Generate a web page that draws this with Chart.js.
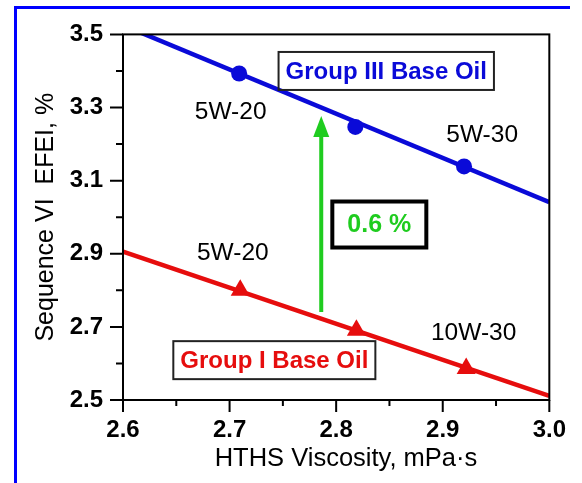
<!DOCTYPE html>
<html><head><meta charset="utf-8">
<script src="https://cdn.jsdelivr.net/npm/chart.js@4.4.1/dist/chart.umd.min.js"></script>
<style>html,body{margin:0;padding:0;background:#fff}canvas{display:block}</style>
</head><body>
<canvas id="c" width="582" height="483"></canvas>
<script>
// ---- data ----
const xTicks = [2.6, 2.7, 2.8, 2.9, 3.0];
const yTicks = [2.5, 2.7, 2.9, 3.1, 3.3, 3.5];
const hthsGroupIII = [2.709, 2.818, 2.920];
const efeiGroupIII = [3.393, 3.247, 3.139];
const hthsGroupI = [2.710, 2.819, 2.922];
const efeiGroupI = [2.800, 2.691, 2.586];
const fitHths = [2.6, 3.0];
const fitGroupIII = [3.525, 3.041];
const fitGroupI = [2.906, 2.511];
const gradeLabels = ['5W-20', '5W-30', '5W-20', '10W-30'];
const gradeX = [2.701, 2.937, 2.703, 2.929];
const gradeY = [3.287, 3.223, 2.901, 2.683];
const seriesNames = ['Group III Base Oil', 'Group I Base Oil'];
const seriesLabelX = [2.847, 2.742];
const seriesLabelY = [3.400, 2.609];
const deltaLabel = '0.6 %';
const deltaLabelX = [2.8405];
const deltaLabelY = [2.980];
const arrowX = [2.786];
const arrowY = [2.741, 3.277];
const xTitle = 'HTHS Viscosity, mPa\u00B7s';
const yTitle = 'Sequence VI  EFEI, %';

const FONT = '"Liberation Sans", Arial, Helvetica, sans-serif';
const BLUE = '#0a0ad8';
const RED = '#e60d0d';
const GREEN = '#1fcc1f';

const pts = (xs, ys) => xs.map((x, i) => ({x, y: ys[i]}));

const deco = {
  id: 'deco',
  beforeDraw(chart) {
    const c = chart.ctx;
    c.save();
    c.fillStyle = '#fff';
    c.fillRect(0, 0, chart.width, chart.height);
    c.fillStyle = '#0000ff';
    c.fillRect(14, 6, 3, chart.height - 6);
    c.fillRect(14, 6, 556, 3);
    c.restore();
  },
  afterDatasetsDraw(chart) {
    const c = chart.ctx, xs = chart.scales.x, ys = chart.scales.y;
    c.save();
    // green arrow
    const ax = xs.getPixelForValue(arrowX[0]);
    const y0 = ys.getPixelForValue(arrowY[0]);
    const y1 = ys.getPixelForValue(arrowY[1]);
    c.strokeStyle = GREEN; c.fillStyle = GREEN; c.lineWidth = 4;
    c.beginPath(); c.moveTo(ax, y0); c.lineTo(ax, y1 + 18); c.stroke();
    c.beginPath(); c.moveTo(ax, y1); c.lineTo(ax - 8, y1 + 21); c.lineTo(ax + 8, y1 + 21); c.closePath(); c.fill();

    // grade labels
    c.fillStyle = '#000';
    c.font = '24.5px ' + FONT;
    c.textAlign = 'center'; c.textBaseline = 'middle';
    gradeLabels.forEach((t, i) => c.fillText(t, xs.getPixelForValue(gradeX[i]), ys.getPixelForValue(gradeY[i])));

    // series boxes
    const cols = [BLUE, RED];
    c.font = 'bold 24px ' + FONT;
    seriesNames.forEach((t, i) => {
      const cx = xs.getPixelForValue(seriesLabelX[i]), cy = ys.getPixelForValue(seriesLabelY[i]);
      const w = c.measureText(t).width + 14, h = 38;
      c.strokeStyle = '#222'; c.lineWidth = 2;
      c.strokeRect(cx - w / 2, cy - h / 2, w, h);
      c.fillStyle = cols[i];
      c.fillText(t, cx, cy + 1);
    });

    // delta box
    const dx = xs.getPixelForValue(deltaLabelX[0]), dy = ys.getPixelForValue(deltaLabelY[0]);
    c.strokeStyle = '#000'; c.lineWidth = 4;
    c.strokeRect(dx - 47, dy - 23, 94, 46);
    c.fillStyle = GREEN;
    c.font = 'bold 25px ' + FONT;
    c.fillText(deltaLabel, dx, dy + 1);
    c.restore();
  },
  afterDraw(chart) {
    const c = chart.ctx, a = chart.chartArea, xs = chart.scales.x, ys = chart.scales.y;
    c.save();
    c.strokeStyle = '#000'; c.lineWidth = 2;
    c.strokeRect(a.left, a.top, a.right - a.left, a.bottom - a.top);
    c.beginPath();
    xTicks.forEach((v, i) => {
      const p = xs.getPixelForValue(v);
      c.moveTo(p, a.bottom); c.lineTo(p, a.bottom + 12);
      if (i < xTicks.length - 1) {
        const m = (p + xs.getPixelForValue(xTicks[i + 1])) / 2;
        c.moveTo(m, a.bottom); c.lineTo(m, a.bottom + 6);
      }
    });
    yTicks.forEach((v, i) => {
      const p = ys.getPixelForValue(v);
      c.moveTo(a.left, p); c.lineTo(a.left - 13, p);
      if (i < yTicks.length - 1) {
        const m = (p + ys.getPixelForValue(yTicks[i + 1])) / 2;
        c.moveTo(a.left, m); c.lineTo(a.left - 7, m);
      }
    });
    c.stroke();
    // x axis title
    c.fillStyle = '#000';
    c.font = '25.5px ' + FONT;
    c.textAlign = 'center'; c.textBaseline = 'middle';
    c.fillText(xTitle, 346, 459);
    c.restore();
  }
};

new Chart(document.getElementById('c'), {
  type: 'scatter',
  data: {datasets: [
    {data: pts(fitHths, fitGroupIII), showLine: true, borderColor: BLUE, borderWidth: 4.5, pointRadius: 0, order: 3},
    {data: pts(fitHths, fitGroupI), showLine: true, borderColor: RED, borderWidth: 4.5, pointRadius: 0, order: 3},
    {data: pts(hthsGroupIII, efeiGroupIII), pointStyle: 'circle', pointRadius: 8, backgroundColor: BLUE, borderColor: BLUE, borderWidth: 0, order: 1},
    {data: pts(hthsGroupI, efeiGroupI), pointStyle: 'triangle', pointRadius: 11, backgroundColor: RED, borderColor: RED, borderWidth: 0, order: 1}
  ]},
  options: {
    responsive: false, animation: false, events: [],
    layout: {padding: {left: 0, right: 31, top: 33, bottom: 0}},
    plugins: {legend: {display: false}, tooltip: {enabled: false}},
    scales: {
      x: {
        type: 'linear', min: 2.6, max: 3.0,
        afterBuildTicks: s => { s.ticks = xTicks.map(v => ({value: v})); },
        afterFit: s => { s.height = 83; },
        grid: {display: false, drawTicks: false}, border: {display: false},
        ticks: {padding: 16, color: '#000', font: {family: FONT, size: 24, weight: 'bold'}, callback: v => Number(v).toFixed(1), maxRotation: 0, autoSkip: false}
      },
      y: {
        type: 'linear', min: 2.5, max: 3.5,
        afterBuildTicks: s => { s.ticks = yTicks.map(v => ({value: v})); },
        afterFit: s => { s.width = 123; },
        grid: {display: false, drawTicks: false}, border: {display: false},
        ticks: {padding: 20, color: '#000', font: {family: FONT, size: 24, weight: 'bold'}, callback: v => Number(v).toFixed(1), autoSkip: false},
        title: {display: true, text: yTitle, color: '#000', font: {family: FONT, size: 25}, padding: {top: 31, bottom: 0}}
      }
    }
  },
  plugins: [deco]
});
</script>
</body></html>
